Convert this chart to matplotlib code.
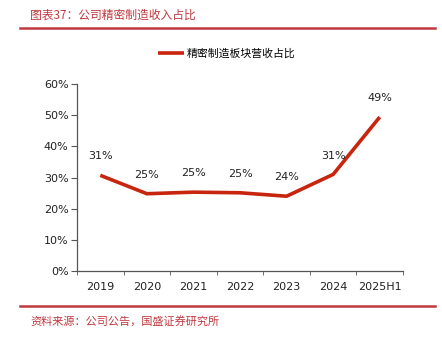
import matplotlib.pyplot as plt
import numpy as np

plt.rcParams['font.family'] = ['DejaVu Sans', 'Noto Sans CJK SC']

years = ['2019', '2020', '2021', '2022', '2023', '2024', '2025H1']
share = [30.7, 24.8, 25.3, 25.1, 24.0, 31.0, 49.4]  # 精密制造板块营收占比, %

red = '#C8250F'
cjk = ['Noto Sans CJK SC', 'DejaVu Sans']

fig = plt.figure(figsize=(4.42, 3.37), dpi=100)
ax = fig.add_axes([0.1742, 0.1958, 0.7376, 0.5549])

x = np.arange(len(years))
y = np.array(share) / 100
ax.plot(x, y, color=red, lw=2.6, solid_capstyle='butt', label='精密制造板块营收占比')
for xi, v in zip(x, share):
    ax.annotate('%.0f%%' % v, (xi, v / 100), xytext=(0, 10), textcoords='offset points',
                ha='center', va='bottom', fontsize=8, color='#222222')

ax.set_xlim(-0.5, len(years) - 0.5)
ax.set_ylim(0, 0.6)
ax.set_yticks(np.arange(0, 0.61, 0.1))
ax.set_yticklabels(['%d%%' % (t * 100) for t in np.arange(0, 0.61, 0.1).round(1)])
ax.set_xticks(x)
ax.set_xticklabels(years)
ax.set_xticks(np.arange(-0.5, len(years)), minor=True)
ax.tick_params(axis='x', which='major', length=0, pad=8, labelsize=8, labelcolor='#222222')
ax.tick_params(axis='x', which='minor', length=3, direction='out', color='#555555')
ax.tick_params(axis='y', length=4, direction='out', color='#555555', labelsize=8,
               labelcolor='#222222', pad=2)
for s in ['top', 'right']:
    ax.spines[s].set_visible(False)
for s in ['left', 'bottom']:
    ax.spines[s].set_color('#555555')
    ax.spines[s].set_linewidth(0.9)

leg = ax.legend(loc='upper center', bbox_to_anchor=(0.46, 1.24), frameon=False,
                handlelength=2.4, handletextpad=0.3, prop={'family': cjk, 'size': 7.8})

# header and source
fig.text(0.068, 0.955, '图表37：公司精密制造收入占比', family=cjk, fontsize=8.5,
         color='#C0393F', style='italic', va='center')
fig.add_artist(plt.Line2D([0.045, 0.985], [0.916, 0.916], color='#C0393F', lw=1.8))
fig.add_artist(plt.Line2D([0.045, 0.985], [0.093, 0.093], color='#C0393F', lw=1.8))
fig.text(0.068, 0.048, '资料来源：公司公告，国盛证券研究所', family=cjk, fontsize=8,
         color='#C0393F', style='italic', va='center')

fig.savefig('out.png', dpi=100)
